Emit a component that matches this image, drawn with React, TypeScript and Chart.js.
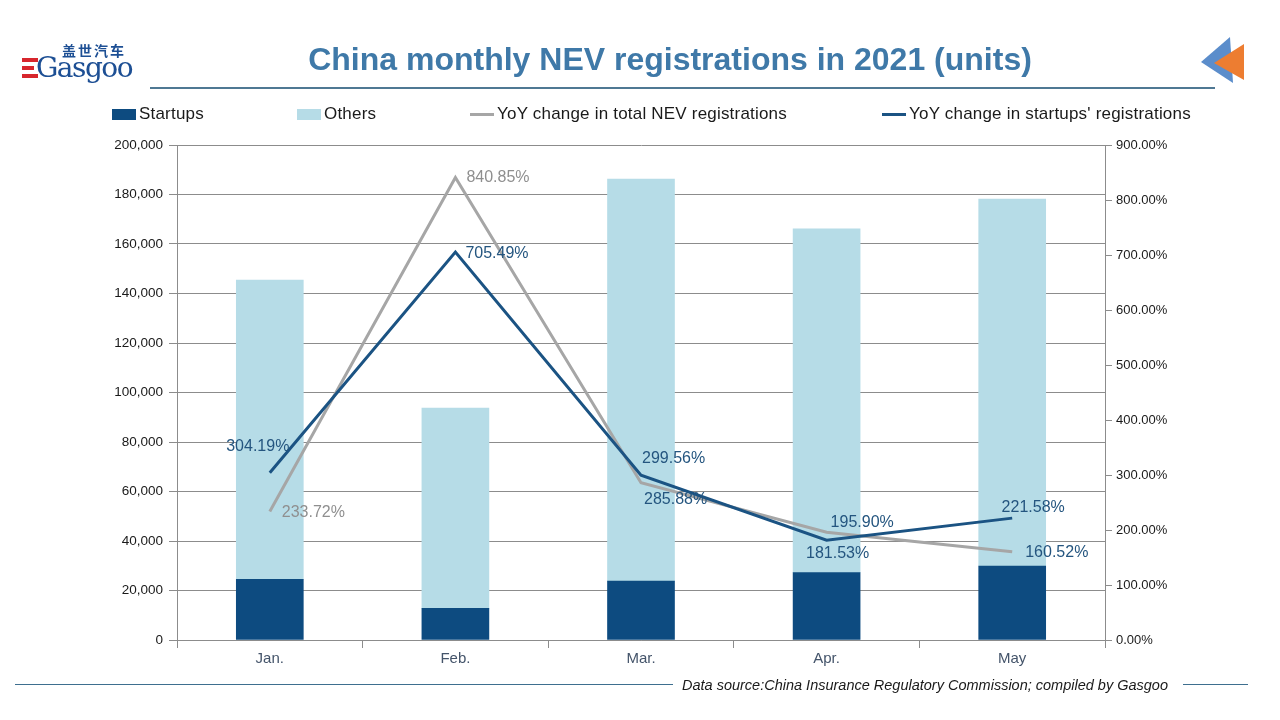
import React, { useEffect, useRef } from "react";
import { Chart, registerables } from "chart.js";

Chart.register(...registerables);

const months = ["Jan.", "Feb.", "Mar.", "Apr.", "May"];
const startups = [24500, 12800, 23800, 27200, 29900];
const others = [120900, 80900, 162400, 138900, 148300];
const yoyTotal = [233.72, 840.85, 285.88, 195.9, 160.52];
const yoyStartups = [304.19, 705.49, 299.56, 181.53, 221.58];

const leftMax = 200000;
const leftStep = 20000;
const rightMax = 900;
const rightStep = 100;

const seriesNames = [
  "Startups",
  "Others",
  "YoY change in total NEV registrations",
  "YoY change in startups' registrations",
];

const FONT = "'Liberation Sans', Arial, sans-serif";
const C_START = "#0d4b80";
const C_OTHER = "#b6dce7";
const C_GRAY = "#a6a6a6";
const C_BLUE = "#1b5383";
const C_LBL_BLUE = "#24557f";
const C_LBL_GRAY = "#8f8f8f";

// label placement (style only): [dx, dy, align, color]
const totalLabelStyle: [number, number, CanvasTextAlign, string][] = [
  [12, 1, "left", C_LBL_GRAY],
  [11, 0, "left", C_LBL_GRAY],
  [3, 17, "left", C_LBL_BLUE],
  [4, -10, "left", C_LBL_BLUE],
  [13, 1, "left", C_LBL_BLUE],
];
const startLabelStyle: [number, number, CanvasTextAlign, string][] = [
  [-12, -26, "center", C_LBL_BLUE],
  [10, 2, "left", C_LBL_BLUE],
  [1, -17, "left", C_LBL_BLUE],
  [11, 13, "center", C_LBL_BLUE],
  [21, -11, "center", C_LBL_BLUE],
];

const labelPlugin = {
  id: "pctLabels",
  afterDatasetsDraw(chart: any) {
    const ctx = chart.ctx;
    ctx.save();
    ctx.font = `16px ${FONT}`;
    ctx.textBaseline = "middle";
    const sets: [number, number[], typeof totalLabelStyle][] = [
      [2, yoyTotal, totalLabelStyle],
      [3, yoyStartups, startLabelStyle],
    ];
    sets.forEach(([idx, vals, styles]) => {
      const meta = chart.getDatasetMeta(idx);
      meta.data.forEach((pt: any, i: number) => {
        const [dx, dy, align, color] = styles[i];
        ctx.fillStyle = color;
        ctx.textAlign = align;
        ctx.fillText(vals[i].toFixed(2) + "%", pt.x + dx, pt.y + dy);
      });
    });
    ctx.restore();
  },
};

export default function App() {
  const ref = useRef<HTMLCanvasElement | null>(null);

  useEffect(() => {
    if (!ref.current) return;
    const chart = new Chart(ref.current, {
      type: "bar",
      data: {
        labels: months,
        datasets: [
          {
            type: "bar",
            label: seriesNames[0],
            data: startups,
            backgroundColor: C_START,
            yAxisID: "y",
            order: 2,
            barThickness: 67,
          },
          {
            type: "bar",
            label: seriesNames[1],
            data: others,
            backgroundColor: C_OTHER,
            yAxisID: "y",
            order: 2,
            barThickness: 67,
          },
          {
            type: "line",
            label: seriesNames[2],
            data: yoyTotal,
            borderColor: C_GRAY,
            backgroundColor: C_GRAY,
            borderWidth: 3,
            pointRadius: 0,
            tension: 0,
            yAxisID: "y1",
            order: 1,
          },
          {
            type: "line",
            label: seriesNames[3],
            data: yoyStartups,
            borderColor: C_BLUE,
            backgroundColor: C_BLUE,
            borderWidth: 3,
            pointRadius: 0,
            tension: 0,
            yAxisID: "y1",
            order: 0,
          },
        ],
      } as any,
      options: {
        animation: false,
        responsive: false,
        maintainAspectRatio: false,
        layout: { padding: { top: 145, left: 0, right: 0, bottom: 0 } },
        plugins: {
          legend: { display: false },
          tooltip: { enabled: false },
          title: { display: false },
        },
        scales: {
          x: {
            stacked: true,
            offset: true,
            grid: {
              offset: true,
              drawOnChartArea: false,
              drawTicks: true,
              tickLength: 8,
              color: "#8c8c8c",
            },
            border: { color: "#8c8c8c" },
            ticks: {
              font: { family: FONT, size: 15 },
              color: "#44546a",
              padding: 2,
            },
            afterFit: (s: any) => {
              s.height = 80;
            },
          },
          y: {
            stacked: true,
            position: "left",
            min: 0,
            max: leftMax,
            grid: {
              color: "#8c8c8c",
              tickLength: 8,
              drawTicks: true,
            },
            border: { color: "#8c8c8c" },
            ticks: {
              stepSize: leftStep,
              font: { family: FONT, size: 13.5 },
              color: "#1a1a1a",
              padding: 6,
              callback: (v: any) => Number(v).toLocaleString("en-US"),
            },
            afterFit: (s: any) => {
              s.width = 177;
            },
          },
          y1: {
            position: "right",
            min: 0,
            max: rightMax,
            grid: {
              drawOnChartArea: false,
              color: "#8c8c8c",
              tickLength: 7,
              drawTicks: true,
            },
            border: { color: "#8c8c8c" },
            ticks: {
              stepSize: rightStep,
              font: { family: FONT, size: 13 },
              color: "#1a1a1a",
              padding: 4,
              callback: (v: any) => Number(v).toFixed(2) + "%",
            },
            afterFit: (s: any) => {
              s.width = 175;
            },
          },
        },
      } as any,
      plugins: [labelPlugin],
    });
    return () => chart.destroy();
  }, []);

  const legendItem = (
    x: number,
    kind: "box" | "line",
    color: string,
    text: string
  ) => (
    <div
      key={text}
      style={{
        position: "absolute",
        left: x,
        top: 104,
        height: 20,
        display: "flex",
        alignItems: "center",
        whiteSpace: "nowrap",
      }}
    >
      <div
        style={{
          width: 24,
          height: kind === "box" ? 11 : 3,
          background: color,
          marginRight: 3,
        }}
      />
      <span style={{ fontSize: 17, letterSpacing: 0.2, color: "#1a1a1a" }}>{text}</span>
    </div>
  );

  return (
    <div
      style={{
        position: "fixed",
        left: 0,
        top: 0,
        width: 1280,
        height: 720,
        background: "#ffffff",
        fontFamily: FONT,
        overflow: "hidden",
      }}
    >
      <canvas
        ref={ref}
        width={1280}
        height={720}
        style={{ position: "absolute", left: 0, top: 0, width: 1280, height: 720 }}
      />
      {/* logo */}
      <div style={{ position: "absolute", left: 22, top: 58, display: "flex", flexDirection: "column", gap: 4 }}>
        <div style={{ width: 16, height: 4, background: "#d7262d" }} />
        <div style={{ width: 12, height: 4, background: "#d7262d" }} />
        <div style={{ width: 16, height: 4, background: "#d7262d" }} />
      </div>
      <div
        style={{
          position: "absolute",
          left: 62,
          top: 42,
          fontSize: 14,
          fontWeight: "bold",
          color: "#1d4f94",
          fontFamily: "'Noto Sans CJK SC', sans-serif",
          letterSpacing: 2,
          lineHeight: "16px",
        }}
      >
        盖世汽车
      </div>
      <div
        style={{
          position: "absolute",
          left: 36,
          top: 52,
          fontSize: 28,
          color: "#1d4f94",
          fontFamily: "'DejaVu Serif', serif",
          lineHeight: "32px",
          letterSpacing: -1.5,
        }}
      >
        Gasgoo
      </div>
      {/* title */}
      <div
        style={{
          position: "absolute",
          left: 0,
          width: 1340,
          top: 40,
          textAlign: "center",
          fontSize: 32,
          fontWeight: "bold",
          color: "#3f79a8",
          lineHeight: "38px",
        }}
      >
        China monthly NEV registrations in 2021 (units)
      </div>
      <div style={{ position: "absolute", left: 150, top: 87, width: 1065, height: 2, background: "#4f7893" }} />
      {/* corner triangles */}
      <svg style={{ position: "absolute", left: 0, top: 0 }} width={1280} height={100}>
        <polygon points="1201,62 1230,37 1233,83" fill="#5b8dcb" />
        <polygon points="1214,63 1244,44 1244,80" fill="#ed7d31" />
      </svg>
      {/* legend */}
      {legendItem(112, "box", C_START, seriesNames[0])}
      {legendItem(297, "box", C_OTHER, seriesNames[1])}
      {legendItem(470, "line", C_GRAY, seriesNames[2])}
      {legendItem(882, "line", C_BLUE, seriesNames[3])}
      {/* footer */}
      <div style={{ position: "absolute", left: 15, top: 684, width: 658, height: 1, background: "#3e6f8f" }} />
      <div style={{ position: "absolute", left: 1183, top: 684, width: 65, height: 1, background: "#3e6f8f" }} />
      <div
        style={{
          position: "absolute",
          left: 682,
          top: 676,
          fontSize: 14.5,
          fontStyle: "italic",
          color: "#1a1a1a",
          whiteSpace: "nowrap",
          lineHeight: "18px",
        }}
      >
        Data source:China Insurance Regulatory Commission; compiled by Gasgoo
      </div>
    </div>
  );
}
